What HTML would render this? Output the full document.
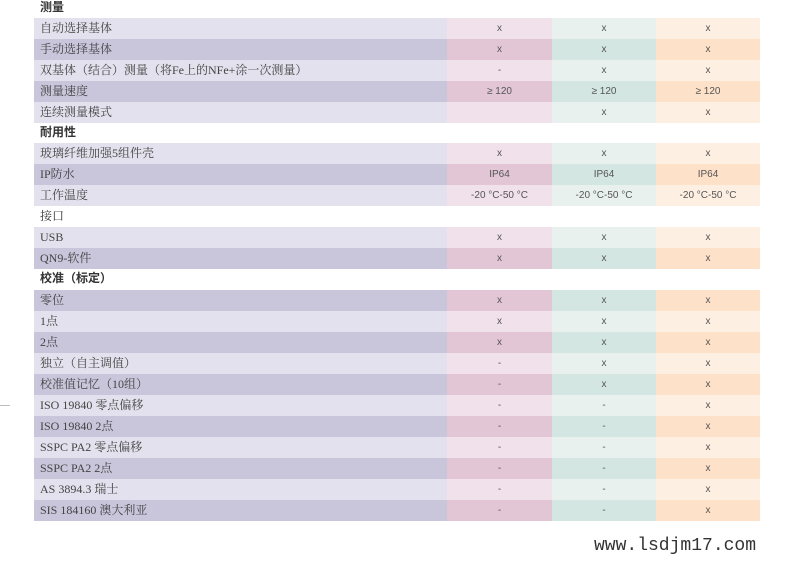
<!DOCTYPE html>
<html><head><meta charset="utf-8"><style>
body{margin:0;width:790px;height:563px;background:#fff;position:relative;overflow:hidden;font-family:"Liberation Serif","Noto Serif CJK SC",serif;}
.r{position:absolute;left:34px;width:727px;height:21px;display:flex;}
.h{position:absolute;left:40px;font-size:12px;color:#333;font-family:"Liberation Sans","Noto Sans CJK SC",sans-serif;font-weight:bold;line-height:21px;}
.l{width:407px;padding-left:6px;font-size:12px;line-height:21px;color:#444;}
.c{text-align:center;font-family:"Liberation Sans","Noto Sans CJK SC",sans-serif;font-size:10px;line-height:21px;color:#555;}
.c1{width:105px}.c2{width:104px}.c3{width:104px}
.a .l{background:#e3e1ed}.a .c1{background:#f1e1ea}.a .c2{background:#e9f1ee}.a .c3{background:#fdefe2}
.b .l{background:#c9c5db}.b .c1{background:#e3c6d5}.b .c2{background:#d4e6e2}.b .c3{background:#fde1c8}
</style></head><body>
<div class="h" style="top:-3px">测量</div>
<div class="r a" style="top:18px"><div class="l">自动选择基体</div><div class="c c1">x</div><div class="c c2">x</div><div class="c c3">x</div></div>
<div class="r b" style="top:39px"><div class="l">手动选择基体</div><div class="c c1">x</div><div class="c c2">x</div><div class="c c3">x</div></div>
<div class="r a" style="top:60px"><div class="l">双基体（结合）测量（将Fe上的NFe+涂一次测量）</div><div class="c c1">-</div><div class="c c2">x</div><div class="c c3">x</div></div>
<div class="r b" style="top:81px"><div class="l">测量速度</div><div class="c c1">≥ 120</div><div class="c c2">≥ 120</div><div class="c c3">≥ 120</div></div>
<div class="r a" style="top:102px"><div class="l">连续测量模式</div><div class="c c1"></div><div class="c c2">x</div><div class="c c3">x</div></div>
<div class="h" style="top:122px">耐用性</div>
<div class="r a" style="top:143px"><div class="l">玻璃纤维加强5组件壳</div><div class="c c1">x</div><div class="c c2">x</div><div class="c c3">x</div></div>
<div class="r b" style="top:164px"><div class="l">IP防水</div><div class="c c1">IP64</div><div class="c c2">IP64</div><div class="c c3">IP64</div></div>
<div class="r a" style="top:185px"><div class="l">工作温度</div><div class="c c1">-20 °C-50 °C</div><div class="c c2">-20 °C-50 °C</div><div class="c c3">-20 °C-50 °C</div></div>
<div class="h" style="top:206px;font-weight:normal;font-family:'Liberation Serif','Noto Serif CJK SC',serif">接口</div>
<div class="r a" style="top:227px"><div class="l">USB</div><div class="c c1">x</div><div class="c c2">x</div><div class="c c3">x</div></div>
<div class="r b" style="top:248px"><div class="l">QN9-软件</div><div class="c c1">x</div><div class="c c2">x</div><div class="c c3">x</div></div>
<div class="h" style="top:268px">校准（标定）</div>
<div class="r b" style="top:290px"><div class="l">零位</div><div class="c c1">x</div><div class="c c2">x</div><div class="c c3">x</div></div>
<div class="r a" style="top:311px"><div class="l">1点</div><div class="c c1">x</div><div class="c c2">x</div><div class="c c3">x</div></div>
<div class="r b" style="top:332px"><div class="l">2点</div><div class="c c1">x</div><div class="c c2">x</div><div class="c c3">x</div></div>
<div class="r a" style="top:353px"><div class="l">独立（自主调值）</div><div class="c c1">-</div><div class="c c2">x</div><div class="c c3">x</div></div>
<div class="r b" style="top:374px"><div class="l">校准值记忆（10组）</div><div class="c c1">-</div><div class="c c2">x</div><div class="c c3">x</div></div>
<div class="r a" style="top:395px"><div class="l">ISO 19840 零点偏移</div><div class="c c1">-</div><div class="c c2">-</div><div class="c c3">x</div></div>
<div class="r b" style="top:416px"><div class="l">ISO 19840 2点</div><div class="c c1">-</div><div class="c c2">-</div><div class="c c3">x</div></div>
<div class="r a" style="top:437px"><div class="l">SSPC PA2 零点偏移</div><div class="c c1">-</div><div class="c c2">-</div><div class="c c3">x</div></div>
<div class="r b" style="top:458px"><div class="l">SSPC PA2 2点</div><div class="c c1">-</div><div class="c c2">-</div><div class="c c3">x</div></div>
<div class="r a" style="top:479px"><div class="l">AS 3894.3 瑞士</div><div class="c c1">-</div><div class="c c2">-</div><div class="c c3">x</div></div>
<div class="r b" style="top:500px"><div class="l">SIS 184160 澳大利亚</div><div class="c c1">-</div><div class="c c2">-</div><div class="c c3">x</div></div>
<div style="position:absolute;left:0;top:405px;width:10px;height:1px;background:#bbb"></div>
<div style="position:absolute;left:594px;top:535px;font-family:'Liberation Mono',monospace;font-size:18px;line-height:22px;color:#333">www.lsdjm17.com</div>
</body></html>
